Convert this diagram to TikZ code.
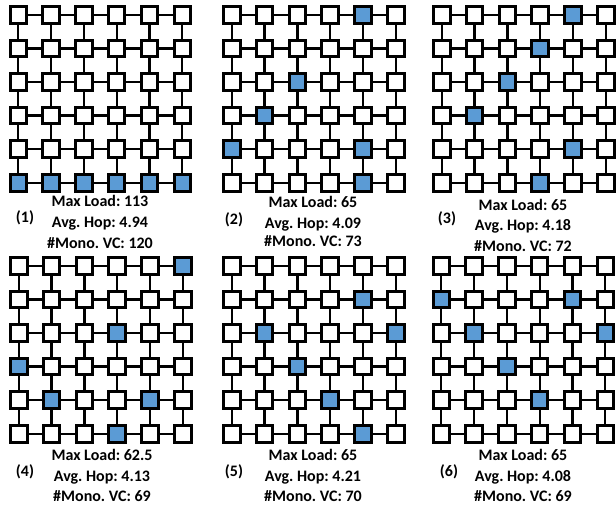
\documentclass[tikz,border=0pt]{standalone}
\usepackage{fontspec}
\setmainfont{Carlito}
\frenchspacing
\definecolor{cellblue}{HTML}{5B9BD5}
\makeatletter
\newcommand\sethot[2]{\foreach \h in {#2}{\expandafter\gdef\csname hot@#1@\h\endcsname{}}}
\newcommand\meshpanel[3]{%
  \foreach \r in {1,...,6}{\foreach \c in {1,...,6}{%
    \ifcsname hot@#1@\r-\c\endcsname
      \node[hotcell] (p#1-\r-\c) at ({#2+9.75+(\c-1)*32.8},{#3+9.75+(\r-1)*33.6}) {};
    \else
      \node[cell] (p#1-\r-\c) at ({#2+9.75+(\c-1)*32.8},{#3+9.75+(\r-1)*33.6}) {};
    \fi
  }}%
  \foreach \r in {1,...,6}{\foreach \c [evaluate=\c as \n using int(\c+1)] in {1,...,5}{%
    \draw[link] (p#1-\r-\c.east) -- (p#1-\r-\n.west);
  }}%
  \foreach \r [evaluate=\r as \n using int(\r+1)] in {1,...,5}{\foreach \c in {1,...,6}{%
    \draw[link] (p#1-\r-\c.south) -- (p#1-\n-\c.north);
  }}%
}
\newcommand\panelstats[8]{% id, xc, y1, y2, y3, maxload, hop, vc
  \node[stat] (ml#1) at (#2,#3) {Max Load: #6};
  \node[stat] (ah#1) at (#2,#4) {Avg. Hop: #7};
  \node[stat] (vc#1) at (#2,#5) {\#Mono. VC: #8};
}
\makeatother
\sethot{1}{6-1,6-2,6-3,6-4,6-5,6-6}
\sethot{2}{1-5,3-3,4-2,5-1,5-5,6-5}
\sethot{3}{1-5,2-4,3-3,4-2,5-5,6-4}
\sethot{4}{1-6,3-4,4-1,5-2,5-5,6-4}
\sethot{5}{2-5,3-2,3-6,4-3,5-4,6-5}
\sethot{6}{2-1,2-5,3-2,3-6,4-3,5-4}
\begin{document}
\begin{tikzpicture}[x=1pt,y=-1pt,
  cell/.style={draw=black,line width=3pt,fill=white,minimum size=16.5pt,inner sep=0pt},
  hotcell/.style={cell,fill=cellblue},
  link/.style={line width=2.3pt,black},
  stat/.style={font=\bfseries\fontsize{16}{18}\selectfont,inner sep=0pt,anchor=base},
  tag/.style={font=\bfseries\fontsize{16}{18}\selectfont,inner sep=0pt,anchor=base},
]
\useasboundingbox (0,0) rectangle (616,506);
\meshpanel{1}{8.5}{5}
\meshpanel{2}{222}{5}
\meshpanel{3}{432}{5}
\meshpanel{4}{9}{256}
\meshpanel{5}{222}{256}
\meshpanel{6}{431.5}{256}
\panelstats{1}{100}{206.5}{227}{248}{113}{4.94}{120}
\panelstats{2}{313}{207}{228.5}{246.5}{65}{4.09}{73}
\panelstats{3}{523}{210}{230.5}{251}{65}{4.18}{72}
\panelstats{4}{102}{460.5}{481.5}{501}{62.5}{4.13}{69}
\panelstats{5}{313}{460.5}{481.5}{501}{65}{4.21}{70}
\panelstats{6}{523}{460.5}{481.5}{501}{65}{4.08}{69}
\node[tag] (t1) at (25,222.5) {(1)};
\node[tag] (t2) at (234,224) {(2)};
\node[tag] (t3) at (447,223) {(3)};
\node[tag] (t4) at (25,476.5) {(4)};
\node[tag] (t5) at (234,476.5) {(5)};
\node[tag] (t6) at (449,476.5) {(6)};
\end{tikzpicture}
\end{document}
